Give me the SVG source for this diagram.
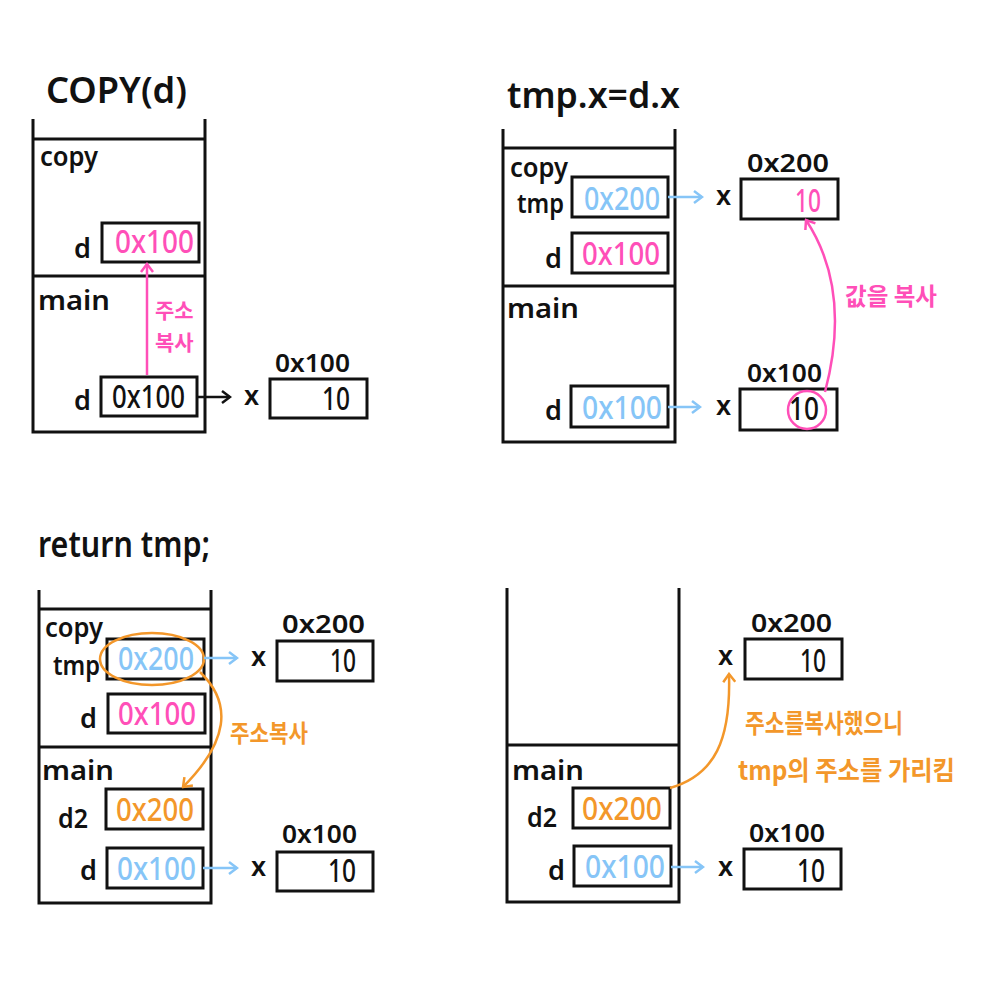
<svg xmlns="http://www.w3.org/2000/svg" width="1002" height="1000" viewBox="0 0 1002 1000">
<style>
text{font-family:"Noto Sans","Noto Sans CJK KR",sans-serif;}
.k{fill:#111;font-weight:600;font-size:27px;}
.ttl{fill:#111;font-weight:600;font-size:36px;}
.v{font-size:32px;font-weight:500;}
.hl{fill:#111;font-weight:600;font-size:26px;}
.pk{fill:#ff4fb8;}
.bl{fill:#86c5f7;}
.or{fill:#f3972a;}
.kr{font-family:"Noto Sans CJK KR",sans-serif;font-weight:700;}
.stk{fill:none;stroke:#111;stroke-width:3;}
.box{fill:#fff;stroke:#111;stroke-width:3;}
.ab{fill:none;stroke:#111;stroke-width:2.5;}
.abl{fill:none;stroke:#86c5f7;stroke-width:2.5;}
.apk{fill:none;stroke:#ff4fb8;stroke-width:2.5;}
.aor{fill:none;stroke:#f3972a;stroke-width:2.5;}
</style>
<defs>
<marker id="mk" markerWidth="12" markerHeight="14" refX="10" refY="7" orient="auto" markerUnits="userSpaceOnUse"><path d="M2,1 L10,7 L2,13" fill="none" stroke="#111" stroke-width="2.5"/></marker>
<marker id="mb" markerWidth="12" markerHeight="14" refX="10" refY="7" orient="auto" markerUnits="userSpaceOnUse"><path d="M2,1 L10,7 L2,13" fill="none" stroke="#86c5f7" stroke-width="2.5"/></marker>
<marker id="mp" markerWidth="12" markerHeight="14" refX="10" refY="7" orient="auto" markerUnits="userSpaceOnUse"><path d="M2,1 L10,7 L2,13" fill="none" stroke="#ff4fb8" stroke-width="2.5"/></marker>
<marker id="mo" markerWidth="12" markerHeight="14" refX="10" refY="7" orient="auto" markerUnits="userSpaceOnUse"><path d="M2,1 L10,7 L2,13" fill="none" stroke="#f3972a" stroke-width="2.5"/></marker>
</defs>
<rect width="1002" height="1000" fill="#fff"/>

<!-- Panel 1 -->
<g id="p1">
<text class="ttl" x="46" y="103" textLength="141" lengthAdjust="spacingAndGlyphs">COPY(d)</text>
<g id="p1-stack"><path class="stk" d="M33,119 V432 H205 V119 M33,139 H205 M33,276 H205"/>
<text class="k" x="40" y="166" textLength="58" lengthAdjust="spacingAndGlyphs">copy</text>
<text class="k" x="38" y="310" textLength="72" lengthAdjust="spacingAndGlyphs">main</text></g>
<g id="p1-copy-d"><text class="k" x="74" y="258">d</text><rect class="box" x="102" y="223" width="97" height="39"/>
<text class="v pk" x="115" y="253" textLength="79" lengthAdjust="spacingAndGlyphs">0x100</text></g>
<g id="p1-main-d"><text class="k" x="74" y="410">d</text><rect class="box" x="101" y="377" width="96" height="39"/>
<text class="v" fill="#111" x="112" y="408" textLength="73" lengthAdjust="spacingAndGlyphs">0x100</text></g>
<g id="p1-heap"><text class="hl" x="275" y="372" textLength="75" lengthAdjust="spacingAndGlyphs">0x100</text>
<text class="k" x="244" y="405">x</text><rect class="box" x="270" y="379" width="97" height="39"/>
<text class="v" fill="#111" x="322" y="410" textLength="28" lengthAdjust="spacingAndGlyphs">10</text></g>
</g>

<!-- Panel 2 -->
<g id="p2">
<text class="ttl" x="507" y="108" textLength="173" lengthAdjust="spacingAndGlyphs">tmp.x=d.x</text>
<g id="p2-stack"><path class="stk" d="M503,129 V442 H675 V129 M503,148 H675 M503,286 H675"/>
<text class="k" x="510" y="177" textLength="58" lengthAdjust="spacingAndGlyphs">copy</text>
<text class="k" x="507" y="318" textLength="72" lengthAdjust="spacingAndGlyphs">main</text></g>
<g id="p2-tmp"><text class="k" x="517" y="213" textLength="47" lengthAdjust="spacingAndGlyphs">tmp</text><rect class="box" x="572" y="177" width="96" height="40"/>
<text class="v bl" x="584" y="210" textLength="76" lengthAdjust="spacingAndGlyphs">0x200</text></g>
<g id="p2-copy-d"><text class="k" x="545" y="268">d</text><rect class="box" x="572" y="233" width="96" height="40"/>
<text class="v pk" x="582" y="265" textLength="78" lengthAdjust="spacingAndGlyphs">0x100</text></g>
<g id="p2-main-d"><text class="k" x="545" y="420">d</text><rect class="box" x="571" y="386" width="97" height="41"/>
<text class="v bl" x="582" y="419" textLength="80" lengthAdjust="spacingAndGlyphs">0x100</text></g>
<g id="p2-heap200"><text class="hl" x="747" y="172" textLength="82" lengthAdjust="spacingAndGlyphs">0x200</text>
<text class="k" x="716" y="205">x</text><rect class="box" x="741" y="179" width="97" height="40"/>
<text class="v pk" x="795" y="212" textLength="26" lengthAdjust="spacingAndGlyphs">10</text></g>
<g id="p2-heap100"><text class="hl" x="747" y="382" textLength="75" lengthAdjust="spacingAndGlyphs">0x100</text>
<text class="k" x="716" y="415">x</text><rect class="box" x="740" y="389" width="97" height="41"/>
<text class="v" fill="#111" x="789" y="420" textLength="30" lengthAdjust="spacingAndGlyphs">10</text>
<circle cx="807" cy="410" r="19" fill="none" stroke="#ff4fb8" stroke-width="2.5"/></g>
<text class="kr pk" x="845" y="305" font-size="24" textLength="92" lengthAdjust="spacingAndGlyphs">값을 복사</text>
</g>

<!-- Panel 3 -->
<g id="p3">
<text class="ttl" x="38" y="557" font-size="32" textLength="172" lengthAdjust="spacingAndGlyphs">return tmp;</text>
<g id="p3-stack"><path class="stk" d="M39,590 V903 H211 V590 M39,609 H211 M39,747 H211"/>
<text class="k" x="45" y="637" textLength="58" lengthAdjust="spacingAndGlyphs">copy</text>
<text class="k" x="42" y="780" textLength="72" lengthAdjust="spacingAndGlyphs">main</text></g>
<g id="p3-tmp"><text class="k" x="53" y="675" textLength="47" lengthAdjust="spacingAndGlyphs">tmp</text><rect class="box" x="107" y="639" width="97" height="40"/>
<text class="v bl" x="118" y="670" textLength="76" lengthAdjust="spacingAndGlyphs">0x200</text>
<ellipse cx="152" cy="659" rx="52" ry="26" fill="none" stroke="#f3972a" stroke-width="2.5"/></g>
<g id="p3-copy-d"><text class="k" x="80" y="728">d</text><rect class="box" x="108" y="694" width="97" height="39"/>
<text class="v pk" x="118" y="725" textLength="78" lengthAdjust="spacingAndGlyphs">0x100</text></g>
<g id="p3-d2"><text class="k" x="58" y="828" textLength="30" lengthAdjust="spacingAndGlyphs">d2</text><rect class="box" x="106" y="789" width="97" height="40"/>
<text class="v or" x="116" y="821" textLength="78" lengthAdjust="spacingAndGlyphs">0x200</text></g>
<g id="p3-main-d"><text class="k" x="80" y="880">d</text><rect class="box" x="107" y="848" width="96" height="40"/>
<text class="v bl" x="117" y="880" textLength="79" lengthAdjust="spacingAndGlyphs">0x100</text></g>
<g id="p3-heap200"><text class="hl" x="282" y="633" textLength="83" lengthAdjust="spacingAndGlyphs">0x200</text>
<text class="k" x="251" y="666">x</text><rect class="box" x="277" y="641" width="96" height="40"/>
<text class="v" fill="#111" x="330" y="672" textLength="26" lengthAdjust="spacingAndGlyphs">10</text></g>
<g id="p3-heap100"><text class="hl" x="282" y="843" textLength="75" lengthAdjust="spacingAndGlyphs">0x100</text>
<text class="k" x="251" y="876">x</text><rect class="box" x="277" y="852" width="96" height="39"/>
<text class="v" fill="#111" x="328" y="882" textLength="28" lengthAdjust="spacingAndGlyphs">10</text></g>
<text class="kr or" x="230" y="742" font-size="24" textLength="78" lengthAdjust="spacingAndGlyphs">주소복사</text>
</g>

<!-- Panel 4 -->
<g id="p4">
<g id="p4-stack"><path class="stk" d="M507,588 V902 H679 V588 M507,745 H679"/>
<text class="k" x="512" y="780" textLength="72" lengthAdjust="spacingAndGlyphs">main</text></g>
<g id="p4-d2"><text class="k" x="527" y="827" textLength="30" lengthAdjust="spacingAndGlyphs">d2</text><rect class="box" x="573" y="788" width="97" height="40"/>
<text class="v or" x="582" y="820" textLength="80" lengthAdjust="spacingAndGlyphs">0x200</text></g>
<g id="p4-main-d"><text class="k" x="548" y="880">d</text><rect class="box" x="574" y="846" width="97" height="40"/>
<text class="v bl" x="585" y="878" textLength="80" lengthAdjust="spacingAndGlyphs">0x100</text></g>
<g id="p4-heap200"><text class="hl" x="751" y="632" textLength="81" lengthAdjust="spacingAndGlyphs">0x200</text>
<text class="k" x="718" y="665">x</text><rect class="box" x="745" y="639" width="97" height="40"/>
<text class="v" fill="#111" x="800" y="672" textLength="26" lengthAdjust="spacingAndGlyphs">10</text></g>
<g id="p4-heap100"><text class="hl" x="749" y="842" textLength="76" lengthAdjust="spacingAndGlyphs">0x100</text>
<text class="k" x="718" y="876">x</text><rect class="box" x="744" y="849" width="97" height="40"/>
<text class="v" fill="#111" x="797" y="882" textLength="28" lengthAdjust="spacingAndGlyphs">10</text></g>
<text class="kr or" x="745" y="733" font-size="26" textLength="158" lengthAdjust="spacingAndGlyphs">주소를복사했으니</text>
<text class="kr or" x="738" y="780" font-size="26" textLength="217" lengthAdjust="spacingAndGlyphs">tmp의 주소를 가리킴</text>
</g>

<!-- Connectors -->
<g id="connectors">
<path class="apk" d="M147,375 V264" marker-end="url(#mp)"/>
<text class="kr pk" x="155" y="318" font-size="21">주소</text>
<text class="kr pk" x="155" y="350" font-size="21">복사</text>
<path class="ab" d="M197,397 H230" marker-end="url(#mk)"/>
<path class="abl" d="M668,197 H702" marker-end="url(#mb)"/>
<path class="abl" d="M668,407 H700" marker-end="url(#mb)"/>
<path class="apk" d="M825,392 Q852,290 806,220" marker-end="url(#mp)"/>
<path class="abl" d="M204,658 H237" marker-end="url(#mb)"/>
<path class="abl" d="M203,868 H237" marker-end="url(#mb)"/>
<path class="aor" d="M200,672 Q250,720 183,787" marker-end="url(#mo)"/>
<path class="abl" d="M671,867 H703" marker-end="url(#mb)"/>
<path class="aor" d="M670,788 C715,775 731,740 729,674" marker-end="url(#mo)"/>
</g>
</svg>
